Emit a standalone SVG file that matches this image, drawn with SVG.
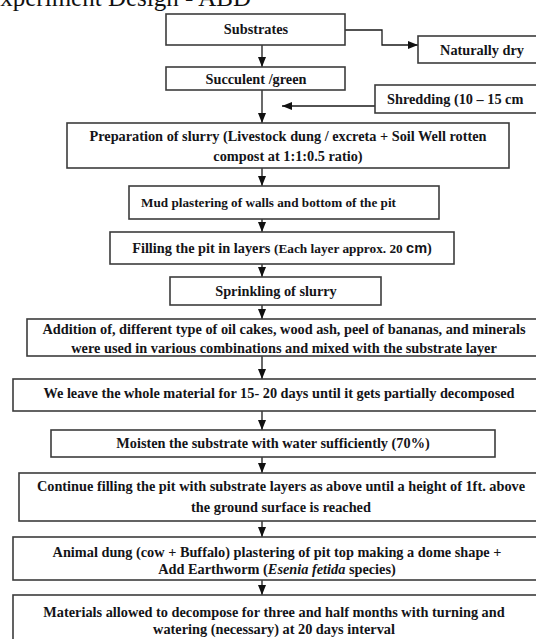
<svg xmlns="http://www.w3.org/2000/svg" width="536" height="639" viewBox="0 0 536 639">
<style>
  .box{fill:#fff;stroke:#3c3c3c;stroke-width:1.6}
  .t{font-family:"Liberation Serif","Times New Roman",serif;font-weight:bold;font-size:14.3px;fill:#141418}
  .c{text-anchor:middle}
  .conn line,.conn polyline{stroke:#1a1a1a;stroke-width:1.3;fill:none}
  .title{font-family:"Liberation Serif","Times New Roman",serif;font-size:25px;fill:#111}
</style>
<defs>
  <marker id="ah" markerUnits="userSpaceOnUse" markerWidth="10" markerHeight="8" refX="10" refY="4" orient="auto">
    <path d="M0,0 L10,4 L0,8 z" fill="#111"/>
  </marker>
</defs>
<rect width="536" height="639" fill="#fff"/>
<text class="title" x="-15" y="6">Experiment Design - ABD</text>

<g class="conn">
  <line x1="262" y1="45" x2="262" y2="67" marker-end="url(#ah)"/>
  <polyline points="345,30 382,30 382,45 418,45" marker-end="url(#ah)"/>
  <line x1="375" y1="106" x2="282" y2="106" marker-end="url(#ah)"/>
  <line x1="262" y1="90" x2="262" y2="123" marker-end="url(#ah)"/>
  <line x1="262" y1="168" x2="262" y2="186" marker-end="url(#ah)"/>
  <line x1="262" y1="219" x2="262" y2="232" marker-end="url(#ah)"/>
  <line x1="262" y1="264" x2="262" y2="277" marker-end="url(#ah)"/>
  <line x1="262" y1="305" x2="262" y2="319" marker-end="url(#ah)"/>
  <line x1="262" y1="356" x2="262" y2="379" marker-end="url(#ah)"/>
  <line x1="262" y1="411" x2="262" y2="430" marker-end="url(#ah)"/>
  <line x1="262" y1="457" x2="262" y2="473" marker-end="url(#ah)"/>
  <line x1="262" y1="521" x2="262" y2="537" marker-end="url(#ah)"/>
  <line x1="262" y1="580" x2="262" y2="595" marker-end="url(#ah)"/>
</g>

<g id="substrates">
  <rect class="box" x="166" y="14" width="179" height="31"/>
  <text class="t c" x="256" y="34">Substrates</text>
</g>
<g id="naturally-dry">
  <rect class="box" x="418" y="36" width="130" height="27"/>
  <text class="t c" x="482" y="55">Naturally dry</text>
</g>
<g id="succulent">
  <rect class="box" x="166" y="67" width="179" height="23"/>
  <text class="t c" x="256" y="84">Succulent /green</text>
</g>
<g id="shredding">
  <rect class="box" x="375" y="85" width="170" height="28"/>
  <text class="t" x="387" y="104">Shredding (10 – 15 cm</text>
</g>
<g id="slurry-prep">
  <rect class="box" x="67" y="123" width="442" height="45"/>
  <text class="t c" x="288" y="141">Preparation of slurry (Livestock dung / excreta + Soil Well rotten</text>
  <text class="t c" x="288" y="161">compost at 1:1:0.5 ratio)</text>
</g>
<g id="mud">
  <rect class="box" x="129" y="186" width="310" height="33"/>
  <text class="t" x="141" y="207" style="font-size:13.2px">Mud plastering of walls and bottom of the pit</text>
</g>
<g id="filling">
  <rect class="box" x="110" y="232" width="344" height="32"/>
  <text class="t c" x="282" y="253">Filling the pit in layers <tspan style="font-size:13.3px">(Each layer approx. 20 </tspan><tspan style="font-family:'Liberation Sans',Arial,sans-serif;font-size:14.5px">cm</tspan>)</text>
</g>
<g id="sprinkling">
  <rect class="box" x="170" y="277" width="211" height="28"/>
  <text class="t c" x="276" y="296">Sprinkling of slurry</text>
</g>
<g id="addition">
  <rect class="box" x="27" y="319" width="520" height="37"/>
  <text class="t c" x="284" y="334">Addition of, different type of oil cakes, wood ash, peel of bananas, and minerals</text>
  <text class="t c" x="284" y="353">were used in various combinations and mixed with the substrate layer</text>
</g>
<g id="leave">
  <rect class="box" x="13" y="379" width="540" height="32"/>
  <text class="t c" x="279" y="398">We leave the whole material for 15- 20 days until it gets partially decomposed</text>
</g>
<g id="moisten">
  <rect class="box" x="51" y="430" width="444" height="27"/>
  <text class="t c" x="273" y="448">Moisten the substrate with water sufficiently (70%)</text>
</g>
<g id="continue">
  <rect class="box" x="19" y="473" width="530" height="48"/>
  <text class="t c" x="281" y="491">Continue filling the pit with substrate layers as above until a height of 1ft. above</text>
  <text class="t c" x="281" y="512">the ground surface is reached</text>
</g>
<g id="animal-dung">
  <rect class="box" x="13" y="537" width="540" height="43"/>
  <text class="t c" x="277" y="557">Animal dung (cow + Buffalo) plastering of pit top making a dome shape +</text>
  <text class="t c" x="277" y="574">Add Earthworm (<tspan font-style="italic">Esenia fetida</tspan> species)</text>
</g>
<g id="materials">
  <rect class="box" x="13" y="595" width="540" height="60"/>
  <text class="t c" x="274" y="617">Materials allowed to decompose for three and half months with turning and</text>
  <text class="t c" x="274" y="634">watering (necessary) at 20 days interval</text>
</g>
</svg>
